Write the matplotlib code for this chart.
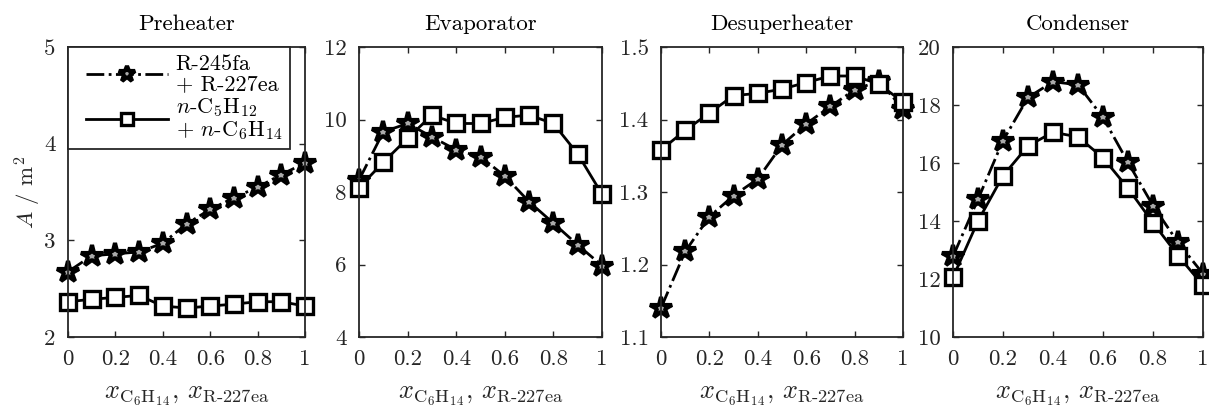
import matplotlib
matplotlib.use("Agg")
import matplotlib.pyplot as plt
from matplotlib.legend_handler import HandlerLine2D

plt.rcParams['font.family'] = ['cmr10', 'DejaVu Serif']
plt.rcParams['mathtext.fontset'] = 'cm'
plt.rcParams['axes.formatter.use_mathtext'] = True
plt.rcParams['axes.unicode_minus'] = False

x = [0, 0.1, 0.2, 0.3, 0.4, 0.5, 0.6, 0.7, 0.8, 0.9, 1.0]

titles = ["Preheater", "Evaporator", "Desuperheater", "Condenser"]

pre_r = [2.675, 2.84, 2.86, 2.88, 2.97, 3.17, 3.32, 3.44, 3.55, 3.68, 3.80]
pre_n = [2.365, 2.39, 2.41, 2.43, 2.32, 2.30, 2.32, 2.34, 2.365, 2.365, 2.32]

eva_r = [8.33, 9.66, 9.89, 9.52, 9.16, 8.97, 8.44, 7.73, 7.14, 6.54, 5.97]
eva_n = [8.12, 8.82, 9.48, 10.12, 9.89, 9.89, 10.06, 10.12, 9.89, 9.05, 7.94]

des_r = [1.140, 1.218, 1.266, 1.295, 1.318, 1.365, 1.394, 1.418, 1.441, 1.453, 1.415]
des_n = [1.358, 1.385, 1.409, 1.433, 1.436, 1.442, 1.451, 1.460, 1.460, 1.449, 1.424]

con_r = [12.78, 14.75, 16.77, 18.26, 18.80, 18.70, 17.57, 16.02, 14.53, 13.26, 12.18]
con_n = [12.06, 14.00, 15.56, 16.59, 17.06, 16.90, 16.18, 15.13, 13.94, 12.81, 11.78]

series_r = [pre_r, eva_r, des_r, con_r]
series_n = [pre_n, eva_n, des_n, con_n]

ylims = [(2, 5), (4, 12), (1.1, 1.5), (10, 20)]
yticks = [[2, 3, 4, 5], [4, 6, 8, 10, 12], [1.1, 1.2, 1.3, 1.4, 1.5], [10, 12, 14, 16, 18, 20]]
ytlabels = [["2", "3", "4", "5"], ["4", "6", "8", "10", "12"],
            ["1.1", "1.2", "1.3", "1.4", "1.5"], ["10", "12", "14", "16", "18", "20"]]
xticks = [0, 0.2, 0.4, 0.6, 0.8, 1]
xtlabels = ["0", "0.2", "0.4", "0.6", "0.8", "1"]

label_r = "R-245fa\n+ R-227ea"
label_n = "$n$-C$_5$H$_{12}$\n+ $n$-C$_6$H$_{14}$"
xlabel = r"$x_{\mathrm{C_6H_{14}}}$, $x_{\mathrm{R\text{-}227ea}}$"


class PaddedLine(HandlerLine2D):
    def get_xdata(self, legend, xdescent, ydescent, width, height, fontsize):
        a = 0.46 * fontsize
        b = 0.14 * fontsize
        xd = [-xdescent + a, -xdescent + width - b]
        return xd, [0.5 * (xd[0] + xd[1])]


W, H = 1209, 408
fig = plt.figure(figsize=(W / 100, H / 100), dpi=100)

boxes = [(68, 305), (359, 602), (661, 903), (953, 1203)]
top, bot = 47, 337
grey = "#262626"
fs = 16.5

for i in range(4):
    l, r = boxes[i]
    ax = fig.add_axes([l / W, (H - bot) / H, (r - l) / W, (bot - top) / H])
    ax.plot(x, series_r[i], linestyle='-.', color='black', lw=2,
            marker='*', markersize=16, markerfacecolor='#aaaaaa',
            markeredgecolor='black', markeredgewidth=3.0, label=label_r, clip_on=False)
    ax.plot(x, series_n[i], linestyle='-', color='black', lw=2,
            marker='s', markersize=11, markerfacecolor='white',
            markeredgecolor='black', markeredgewidth=2.4, label=label_n, clip_on=False)
    ax.set_xlim(0, 1)
    ax.set_ylim(*ylims[i])
    ax.set_xticks(xticks)
    ax.set_xticklabels(xtlabels)
    ax.set_yticks(yticks[i])
    ax.set_yticklabels(ytlabels[i])
    ax.tick_params(direction='in', top=True, right=True, length=4, width=1,
                   labelsize=fs, colors=grey, pad=9)
    for s in ax.spines.values():
        s.set_linewidth(1.3)
        s.set_color(grey)
    ax.set_title(titles[i], fontsize=fs, pad=12, color='black')
    ax.set_xlabel(xlabel, fontsize=19, color=grey, labelpad=11)
    if i == 0:
        ax.set_ylabel(r"$A$ / m$^2$", fontsize=fs, color=grey, labelpad=1)
        leg = ax.legend(loc='upper left', fontsize=16, handlelength=4.3,
                        borderaxespad=0, fancybox=False, framealpha=1,
                        edgecolor=grey, borderpad=0.35, labelspacing=0.1,
                        handletextpad=0.2, markerscale=0.75,
                        handler_map={plt.Line2D: PaddedLine()})
        leg.get_frame().set_linewidth(1.3)
        for t in leg.get_texts():
            t.set_linespacing(1.0)

fig.savefig("out.png", dpi=100)
